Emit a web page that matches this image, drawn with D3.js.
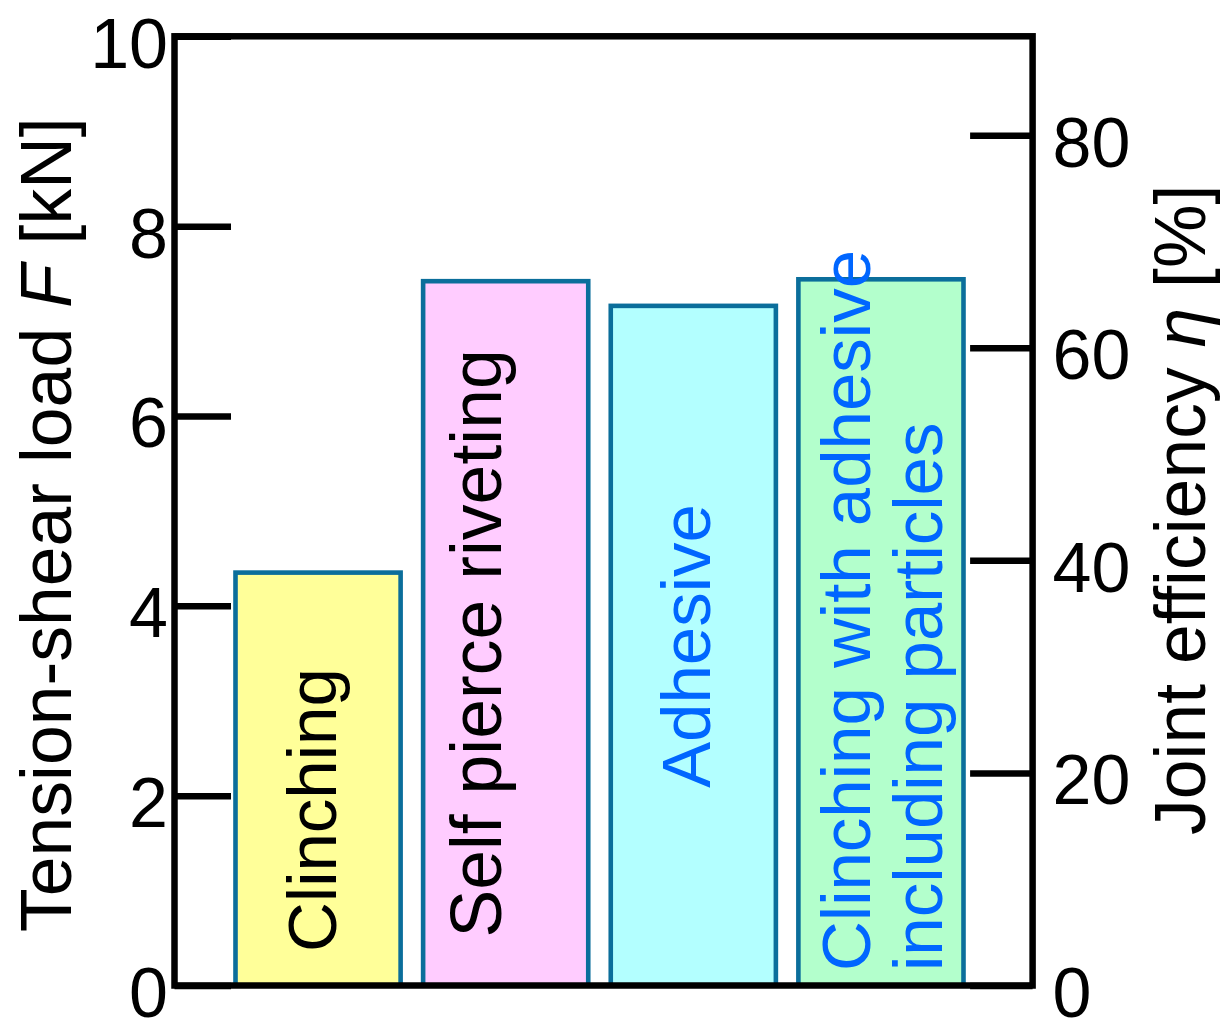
<!DOCTYPE html>
<html>
<head>
<meta charset="utf-8">
<script src="https://cdn.jsdelivr.net/npm/d3@7"></script>
<style>
  html, body { margin: 0; padding: 0; background: #ffffff; }
  svg { display: block; }
</style>
</head>
<body>
<svg id="chart" width="1230" height="1032"></svg>
<script>
// ---- data ----
const categories = ["Clinching", "Self pierce riveting", "Adhesive", "Clinching with adhesive including particles"];
const loads = [4.35, 7.42, 7.16, 7.44];            // tension-shear load F [kN]
const labelLines = [["Clinching"], ["Self pierce riveting"], ["Adhesive"], ["Clinching with adhesive", "including particles"]];
const leftTicks = [0, 2, 4, 6, 8, 10];
const rightTicks = [0, 20, 40, 60, 80];
const leftDomain = [0, 10];
const rightDomain = [0, 89.3];                     // joint efficiency η [%]

// ---- style ----
const fills = ["#ffff99", "#ffccff", "#b3ffff", "#b3ffcc"];
const textColors = ["#000000", "#000000", "#0066ff", "#0066ff"];
const barStroke = "#0b6e9b";
const FONT = "'Liberation Sans', Arial, Helvetica, sans-serif";
// label layout: baseline offset(s) from band centre and start offset above axis (px)
const labelLayout = [
  { dx: [17.5], up: 33.5, size: 69 },
  { dx: [-5], up: 48, size: 71.5 },
  { dx: [16.5], up: 197.5, size: 69 },
  { dx: [-11, 60.8], up: 14.5, size: 69 }
];

const svg = d3.select("#chart");
const L = 174.5, R = 1032.6, T = 36.3, B = 985.5;

const x = d3.scaleBand().domain(categories).range([235.5, 963.5]).paddingInner(0.12).paddingOuter(0);
const yL = d3.scaleLinear().domain(leftDomain).range([B, T]);
const yR = d3.scaleLinear().domain(rightDomain).range([B, T]);

const data = categories.map((c, i) => ({ c, v: loads[i], i }));

// bars
svg.append("g").selectAll("rect").data(data).join("rect")
  .attr("x", d => x(d.c))
  .attr("y", d => yL(d.v))
  .attr("width", x.bandwidth())
  .attr("height", d => yL(0) - yL(d.v))
  .attr("fill", d => fills[d.i])
  .attr("stroke", barStroke)
  .attr("stroke-width", 4.6);

// bar labels
const lg = svg.append("g").attr("font-family", FONT);
data.forEach(d => {
  const cx = x(d.c) + x.bandwidth() / 2;
  labelLines[d.i].forEach((line, k) => {
    lg.append("text")
      .attr("transform", `translate(${cx + labelLayout[d.i].dx[k]},${B - labelLayout[d.i].up}) rotate(-90)`)
      .attr("text-anchor", "start")
      .attr("font-size", labelLayout[d.i].size)
      .attr("fill", textColors[d.i])
      .text(line);
  });
});

// frame
svg.append("rect")
  .attr("x", L).attr("y", T)
  .attr("width", R - L).attr("height", B - T)
  .attr("fill", "none").attr("stroke", "#000").attr("stroke-width", 6.5);

// left axis
const axL = svg.append("g").attr("transform", `translate(${L},0)`)
  .call(d3.axisLeft(yL).tickValues(leftTicks).tickFormat(d3.format("d")).tickSizeInner(-56.5).tickSizeOuter(0).tickPadding(6.5));
axL.select(".domain").remove();
axL.selectAll(".tick line").attr("stroke", "#000").attr("stroke-width", 6.5);
axL.selectAll(".tick text").attr("font-family", FONT).attr("font-size", 70).attr("fill", "#000")
  .attr("dy", null).attr("y", 31);

// right axis
const axR = svg.append("g").attr("transform", `translate(${R},0)`)
  .call(d3.axisRight(yR).tickValues(rightTicks).tickFormat(d3.format("d")).tickSizeInner(-62.5).tickSizeOuter(0).tickPadding(20));
axR.select(".domain").remove();
axR.selectAll(".tick line").attr("stroke", "#000").attr("stroke-width", 6.5);
axR.selectAll(".tick text").attr("font-family", FONT).attr("font-size", 70).attr("fill", "#000")
  .attr("dy", null).attr("y", 31);

// axis titles
const tl = svg.append("text")
  .attr("transform", `translate(71,932) rotate(-90)`)
  .attr("text-anchor", "start").attr("font-family", FONT).attr("font-size", 71.5).attr("fill", "#000");
tl.append("tspan").text("Tension-shear load ");
tl.append("tspan").attr("font-style", "italic").text("F");
tl.append("tspan").text(" [kN]");

const tr = svg.append("text")
  .attr("transform", `translate(1205,835) rotate(-90)`)
  .attr("text-anchor", "start").attr("font-family", FONT).attr("font-size", 71.5).attr("fill", "#000");
tr.append("tspan").text("Joint efficiency ");
tr.append("tspan").attr("font-style", "italic").text("η");
tr.append("tspan").text(" [%]");
</script>
</body>
</html>
